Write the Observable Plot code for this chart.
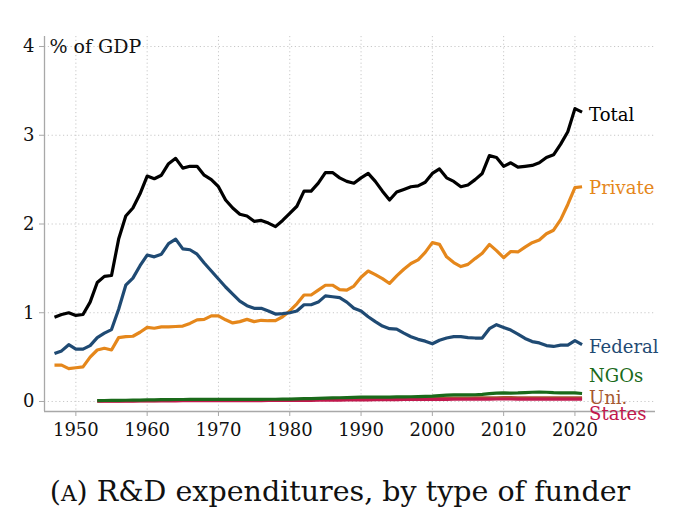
<!DOCTYPE html>
<html>
<head>
<meta charset="utf-8">
<script src="https://cdn.jsdelivr.net/npm/d3@7"></script>
<script src="https://cdn.jsdelivr.net/npm/@observablehq/plot@0.6"></script>
<style>
  html, body { margin: 0; padding: 0; background: #fff; }
  #chart svg { display: block; }
  #chart svg text { font-family: 'DejaVu Serif', 'Liberation Serif', serif; }
  #caption { font-family: 'DejaVu Serif', 'Liberation Serif', serif; font-size: 28.5px; color: #111; text-align: center; margin-top: 20px; white-space: nowrap; }
</style>
</head>
<body>
<div id="chart"></div>
<div id="caption">(<span style="font-size:0.76em">A</span>) R&amp;D expenditures, by type of funder</div>
<script>
const yearsMain = d3.range(1947, 2022);
const yearsSmall = d3.range(1953, 2022);

const total = [0.95,0.98,1.00,0.97,0.98,1.12,1.34,1.41,1.42,1.83,
  2.09,2.18,2.34,2.54,2.51,2.55,2.68,2.74,2.63,2.65,
  2.65,2.55,2.50,2.42,2.27,2.18,2.11,2.09,2.03,2.04,
  2.01,1.97,2.04,2.12,2.20,2.37,2.37,2.46,2.58,2.58,
  2.52,2.48,2.46,2.52,2.57,2.48,2.37,2.27,2.36,2.39,
  2.42,2.43,2.47,2.57,2.62,2.52,2.48,2.42,2.44,2.50,
  2.57,2.77,2.75,2.65,2.69,2.64,2.65,2.66,2.69,2.75,
  2.78,2.90,3.04,3.30,3.26];

const federal = [0.54,0.57,0.64,0.59,0.59,0.63,0.72,0.77,0.81,1.04,
  1.31,1.39,1.53,1.65,1.63,1.66,1.78,1.83,1.72,1.71,
  1.66,1.56,1.47,1.38,1.29,1.21,1.13,1.08,1.05,1.05,
  1.02,0.985,0.99,1.00,1.02,1.09,1.09,1.12,1.19,1.18,
  1.17,1.12,1.05,1.02,0.955,0.90,0.85,0.82,0.815,0.77,
  0.73,0.70,0.68,0.65,0.69,0.715,0.73,0.73,0.72,0.715,
  0.715,0.82,0.865,0.835,0.805,0.76,0.71,0.675,0.66,0.63,
  0.62,0.635,0.635,0.685,0.64];

const privateF = [0.41,0.41,0.37,0.38,0.39,0.50,0.58,0.60,0.58,0.72,
  0.73,0.735,0.78,0.835,0.825,0.84,0.84,0.845,0.85,0.88,
  0.92,0.925,0.965,0.965,0.92,0.885,0.90,0.925,0.90,0.915,
  0.91,0.91,0.955,1.02,1.10,1.20,1.20,1.255,1.31,1.31,
  1.26,1.255,1.30,1.40,1.47,1.43,1.385,1.33,1.415,1.49,
  1.555,1.595,1.68,1.79,1.77,1.63,1.565,1.52,1.545,1.61,
  1.67,1.77,1.70,1.62,1.69,1.685,1.74,1.79,1.82,1.89,
  1.93,2.05,2.22,2.41,2.42];

const ngos = [0.010,0.011,0.012,0.013,0.014,0.015,0.016,0.018,0.019,0.020,
  0.021,0.022,0.022,0.023,0.023,0.024,0.024,0.024,0.024,0.024,
  0.024,0.024,0.024,0.024,0.025,0.025,0.026,0.027,0.029,0.031,
  0.033,0.035,0.038,0.040,0.042,0.044,0.046,0.048,0.050,0.050,
  0.050,0.050,0.051,0.052,0.053,0.055,0.057,0.060,0.066,0.072,
  0.075,0.074,0.074,0.076,0.080,0.088,0.095,0.096,0.094,0.096,
  0.100,0.104,0.107,0.104,0.100,0.098,0.097,0.096,0.090];

const uni = [0.006,0.006,0.007,0.007,0.008,0.008,0.009,0.010,0.010,0.011,
  0.012,0.013,0.014,0.015,0.016,0.016,0.017,0.017,0.018,0.018,
  0.018,0.018,0.018,0.019,0.019,0.019,0.020,0.020,0.021,0.022,
  0.023,0.024,0.025,0.026,0.027,0.028,0.029,0.030,0.031,0.032,
  0.032,0.033,0.033,0.034,0.034,0.035,0.035,0.036,0.036,0.037,
  0.038,0.038,0.039,0.040,0.040,0.041,0.042,0.043,0.043,0.042,
  0.042,0.042,0.041,0.041,0.041,0.040,0.040,0.040,0.040];

const states = [0.004,0.004,0.004,0.005,0.005,0.005,0.006,0.006,0.006,0.007,
  0.007,0.007,0.008,0.008,0.008,0.008,0.009,0.009,0.009,0.009,
  0.010,0.010,0.010,0.010,0.011,0.011,0.011,0.012,0.012,0.013,
  0.013,0.014,0.015,0.015,0.016,0.017,0.018,0.018,0.019,0.020,
  0.020,0.021,0.021,0.022,0.022,0.022,0.023,0.023,0.024,0.024,
  0.025,0.025,0.025,0.026,0.026,0.027,0.028,0.028,0.028,0.027,
  0.027,0.027,0.026,0.026,0.026,0.026,0.026,0.026,0.026];

const xTicks = [1950,1960,1970,1980,1990,2000,2010,2020];
const yTicks = [0,1,2,3,4];
const xDomain = [1945.6, 2031.3];
const yDomain = [-0.113, 4.113];

const colors = {Total:"#000000", Private:"#e5871b", Federal:"#1f4a73", NGOs:"#1a6a1a", "Uni.":"#a5582f", States:"#c2184d"};

const mk = (years, vals, name) => years.map((y, i) => ({year: y, value: vals[i], name}));
const series = {
  Total: mk(yearsMain, total, "Total"),
  Private: mk(yearsMain, privateF, "Private"),
  Federal: mk(yearsMain, federal, "Federal"),
  NGOs: mk(yearsSmall, ngos, "NGOs"),
  "Uni.": mk(yearsSmall, uni, "Uni."),
  States: mk(yearsSmall, states, "States")
};
const drawOrder = ["Uni.", "States", "NGOs", "Private", "Federal", "Total"];
const labelDy = {Total: 3, Private: 2, Federal: 3, NGOs: -17, "Uni.": 0, States: 15};

const font = "'DejaVu Serif', 'Liberation Serif', serif";

const marks = [
  Plot.gridX(xTicks, {stroke: "#c8c8c8", strokeOpacity: 1, strokeDasharray: "1.2,2.6", strokeWidth: 1}),
  Plot.gridY(yTicks, {stroke: "#c8c8c8", strokeOpacity: 1, strokeDasharray: "1.2,2.6", strokeWidth: 1}),
  Plot.ruleX([xDomain[0]], {stroke: "#a8a8a8", strokeWidth: 1.3}),
  Plot.ruleY([yDomain[0]], {stroke: "#a8a8a8", strokeWidth: 1.3}),
  Plot.axisX({ticks: xTicks, tickFormat: d => String(d), tickSize: 5, tickPadding: 7, stroke: "#a8a8a8", fill: "#111", fontSize: 18, label: null}),
  Plot.axisY({ticks: yTicks, tickFormat: d => String(d), tickSize: 5, tickPadding: 5, stroke: "#a8a8a8", fill: "#111", fontSize: 18, label: null}),
  ...drawOrder.map(n => Plot.line(series[n], {x: "year", y: "value", stroke: colors[n], strokeWidth: 3.2, strokeLinejoin: "round", strokeLinecap: "butt"})),
  ...drawOrder.map(n => Plot.text(series[n].slice(-1), {x: "year", y: "value", text: "name", fill: colors[n], textAnchor: "start", dx: 7, dy: labelDy[n], fontSize: 18})),
  Plot.text(["% of GDP"], {frameAnchor: "top-left", text: d => d, textAnchor: "start", lineAnchor: "middle", dx: 5, dy: 10, fontSize: 19, fill: "#111"})
];

const chart = Plot.plot({
  width: 680,
  height: 455,
  marginLeft: 44,
  marginRight: 25,
  marginTop: 36,
  marginBottom: 44,
  x: {domain: xDomain, axis: null},
  y: {domain: yDomain, axis: null},
  style: {fontFamily: font, background: "#fff", overflow: "visible"},
  marks
});
document.getElementById("chart").appendChild(chart);
</script>
</body>
</html>
